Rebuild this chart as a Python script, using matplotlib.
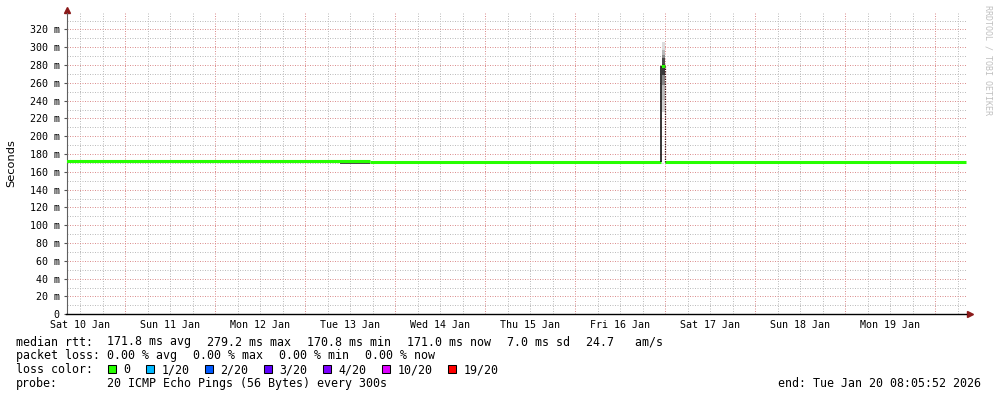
import matplotlib
matplotlib.use('Agg')
import matplotlib.pyplot as plt
import matplotlib.dates as mdates
from matplotlib.patches import Rectangle
from datetime import datetime, timedelta

W, H, DPI = 997, 397, 100

# ----------------------------------------------------------------------------------------- #
#                                           Data                                            #
# ----------------------------------------------------------------------------------------- #

t_start = datetime(2026, 1, 10, 8, 24)
t_end = datetime(2026, 1, 20, 8, 24)

# median rtt as steps (ms)
seg_start = [datetime(2026, 1, 10, 8, 24), datetime(2026, 1, 13, 17, 20),
             datetime(2026, 1, 16, 23, 0), datetime(2026, 1, 17, 0, 0)]
seg_end = [datetime(2026, 1, 13, 17, 20), datetime(2026, 1, 16, 23, 0),
           datetime(2026, 1, 17, 0, 0), datetime(2026, 1, 20, 8, 24)]
seg_median = [172.6, 170.9, 279.2, 170.9]

# thin smoke band under the median on Tue 13
band_start = datetime(2026, 1, 13, 9, 20)
band_end = datetime(2026, 1, 13, 17, 20)
band_lo, band_hi = 169.3, 171.0

# smoke around the spike (ms edges, bottom to top)
spike_start = datetime(2026, 1, 16, 23, 5)
spike_end = datetime(2026, 1, 17, 0, 0)
smoke_edges = [227, 241, 258, 269, 278, 281, 288, 291, 297, 306]
smoke_shade = ['#d4d4d4', '#bdbdbd', '#8a8a8a', '#3c3c3c', '#3c3c3c',
               '#4a4a4a', '#8c8c8c', '#b8b8b8', '#dcdcdc']

y_ticks = list(range(0, 321, 20))
y_labels = ['0'] + ['%d m' % v for v in y_ticks[1:]]
day_labels = ['Sat 10 Jan', 'Sun 11 Jan', 'Mon 12 Jan', 'Tue 13 Jan', 'Wed 14 Jan',
              'Thu 15 Jan', 'Fri 16 Jan', 'Sat 17 Jan', 'Sun 18 Jan', 'Mon 19 Jan']

rtt_stats = [171.8, 279.2, 170.8, 171.0]
rtt_names = ['avg', 'max', 'min', 'now']
rtt_sd = 7.0
rtt_am_s = 24.7
loss_stats = [0.00, 0.00, 0.00, 0.00]
loss_labels = ['0', '1/20', '2/20', '3/20', '4/20', '10/20', '19/20']
loss_colors = ['#26ff00', '#00b8ff', '#0059ff', '#5e00ff', '#7e00ff', '#dd00ff', '#ff0000']
probe_text = '20 ICMP Echo Pings (56 Bytes) every 300s'
end_text = 'end: Tue Jan 20 08:05:52 2026'

# ----------------------------------------------------------------------------------------- #
#                                           Plot                                            #
# ----------------------------------------------------------------------------------------- #

MONO = 'DejaVu Sans Mono'
MGRID = '#dc9090'
GRID = '#bdbdbd'


def fpos(x, y):
    return x / W, 1 - y / H


fig = plt.figure(figsize=(W / DPI, H / DPI), dpi=DPI)
fig.patch.set_facecolor('white')
ax = fig.add_axes([66.5 / W, 1 - 314.3 / H, 900 / W, (314.3 - 12.5) / H])
ax.set_xlim(mdates.date2num(t_start), mdates.date2num(t_end))
ax.set_ylim(0, 339)

# grid: days major, 6 h minor; 20 m major, 10 m minor
t = datetime(2026, 1, 10, 12)
while t < t_end:
    if t > t_start:
        major = t.hour == 0
        ax.axvline(mdates.date2num(t), color=MGRID if major else GRID, lw=0.72,
                   ls=(0, (1, 1.5)), zorder=1)
    t += timedelta(hours=6)
for v in range(10, 331, 10):
    ax.axhline(v, color=MGRID if v % 20 == 0 else GRID, lw=0.72,
               ls=(0, (1, 1.5)), zorder=1)

# smoke
ax.bar(mdates.date2num(band_start), band_hi - band_lo, bottom=band_lo,
       width=mdates.date2num(band_end) - mdates.date2num(band_start),
       align='edge', color='#4a4a4a', lw=0, zorder=2)
sw = mdates.date2num(spike_end) - mdates.date2num(spike_start)
for lo, hi, c in zip(smoke_edges[:-1], smoke_edges[1:], smoke_shade):
    ax.bar(mdates.date2num(spike_start), hi - lo, bottom=lo, width=sw,
           align='edge', color=c, lw=0, zorder=2)

# median
ax.hlines(seg_median, mdates.date2num(seg_start), mdates.date2num(seg_end),
          color=loss_colors[0], lw=2.2, capstyle='butt', zorder=3)
ax.vlines(mdates.date2num(seg_start[2]), seg_median[1], seg_median[2],
          color='black', lw=1.1, zorder=4)
ax.vlines(mdates.date2num(seg_start[3]), seg_median[3], seg_median[2],
          color='#3a0a0a', lw=0.9, ls=(0, (1, 1)), zorder=4)

# axes
for s in ['top', 'right']:
    ax.spines[s].set_visible(False)
ax.spines['left'].set_color('#606060')
ax.spines['left'].set_linewidth(0.8)
ax.spines['bottom'].set_color('black')
ax.spines['bottom'].set_linewidth(1.0)
ax.plot([0], [1.0085], marker='^', ms=4.5, color='#8b1a1a', transform=ax.transAxes,
        clip_on=False)
ax.plot([1.004], [0], marker='>', ms=4.5, color='#8b1a1a', transform=ax.transAxes,
        clip_on=False)

ax.set_yticks(y_ticks)
ax.set_yticklabels(y_labels, family=MONO, fontsize=7.2)
ax.set_xticks([mdates.date2num(datetime(2026, 1, 10 + i, 12)) for i in range(len(day_labels))])
ax.set_xticklabels(day_labels, family=MONO, fontsize=7.2)
ax.tick_params(axis='y', length=2.2, width=0.8, color='#555555', pad=2.6)
ax.tick_params(axis='x', length=0, pad=4.3)

fig.text(*fpos(11, 163), 'Seconds', rotation=90, ha='center', va='center',
         fontsize=8.2, family='DejaVu Sans')
fig.text(*fpos(988, 5), 'RRDTOOL / TOBI OETIKER', rotation=270, ha='center', va='top',
         fontsize=6, family=MONO, color='#c0c0c0')

# legend block
FS = 8.4
CW = 7.0
col_x = 107.3
rows = [345.5, 359.3, 373.2, 386.8]


def put(x, row, s):
    fig.text(*fpos(x, rows[row]), s, ha='left', va='baseline', family=MONO, fontsize=FS)


put(16, 0, 'median rtt:')
rtt_items = ['%.1f ms %s' % (v, n) for v, n in zip(rtt_stats, rtt_names)]
rtt_items += ['%.1f ms sd' % rtt_sd, '%.1f   am/s' % rtt_am_s]
x = col_x
for s in rtt_items:
    put(x, 0, s)
    x += len(s) * CW + 16

put(16, 1, 'packet loss:')
x = col_x
for v, n in zip(loss_stats, rtt_names):
    s = '%.2f %% %s' % (v, n)
    put(x, 1, s)
    x += len(s) * CW + 16

put(16, 2, 'loss color:')
x = 108.3
for lab, c in zip(loss_labels, loss_colors):
    bx, by = fpos(x, rows[2])
    fig.add_artist(Rectangle((bx, by), 7.5 / W, 8.5 / H, transform=fig.transFigure,
                             facecolor=c, edgecolor='black', lw=0.75))
    put(x + 15, 2, lab)
    x += 15 + len(lab) * CW + 16

put(16, 3, 'probe:')
put(col_x, 3, probe_text)
fig.text(*fpos(980.5, rows[3]), end_text, ha='right', va='baseline', family=MONO, fontsize=FS)

fig.savefig('out.png', dpi=DPI)
